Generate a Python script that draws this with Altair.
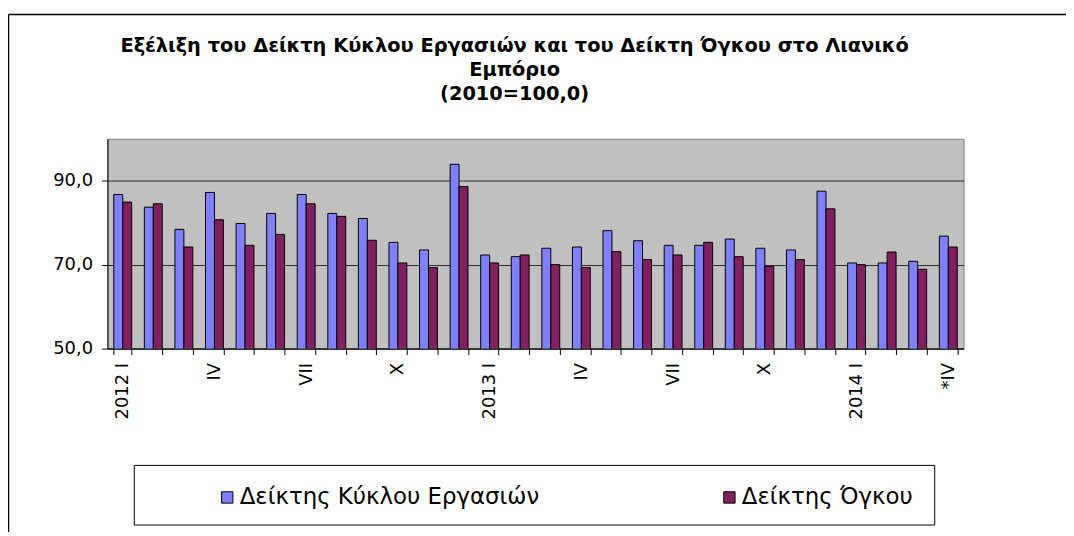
import altair as alt
import pandas as pd

# ---- data ----
months = ["2012 I", "2012 II", "2012 III", "2012 IV", "2012 V", "2012 VI", "2012 VII",
          "2012 VIII", "2012 IX", "2012 X", "2012 XI", "2012 XII",
          "2013 I", "2013 II", "2013 III", "2013 IV", "2013 V", "2013 VI", "2013 VII",
          "2013 VIII", "2013 IX", "2013 X", "2013 XI", "2013 XII",
          "2014 I", "2014 II", "2014 III", "2014 IV"]
tick_labels = ["2012 I", "", "", "IV", "", "", "VII", "", "", "X", "", "",
               "2013 I", "", "", "IV", "", "", "VII", "", "", "X", "", "",
               "2014 I", "", "", "*IV"]
series_names = ["Δείκτης Κύκλου Εργασιών", "Δείκτης Όγκου"]
turnover = [86.7, 83.7, 78.4, 87.2, 79.8, 82.2, 86.7, 82.2, 81.0, 75.3, 73.5, 93.9,
            72.3, 71.9, 73.9, 74.2, 78.1, 75.7, 74.6, 74.6, 76.1, 73.9, 73.5, 87.5,
            70.4, 70.4, 70.8, 76.8]
volume = [84.9, 84.5, 74.2, 80.7, 74.6, 77.2, 84.5, 81.5, 75.8, 70.4, 69.3, 88.6,
          70.4, 72.3, 70.0, 69.3, 73.1, 71.2, 72.3, 75.3, 71.9, 69.6, 71.2, 83.3,
          70.0, 73.0, 68.9, 74.2]
y_ticks = [50, 70, 90]
title_lines = ["Εξέλιξη του Δείκτη Κύκλου Εργασιών και του Δείκτη Όγκου στο Λιανικό",
               "Εμπόριο", "(2010=100,0)"]
colors = ["#8080FF", "#802060"]

rows = []
for i, m in enumerate(months):
    rows.append({"month": m, "series": series_names[0], "value": turnover[i]})
    rows.append({"month": m, "series": series_names[1], "value": volume[i]})
df = pd.DataFrame(rows)

FONT = "DejaVu Sans"
W, H = 861, 211

keys_js = "[" + ",".join("'%s'" % k for k in months) + "]"
labs_js = "[" + ",".join("'%s'" % l for l in tick_labels) + "]"
x_label_expr = f"{labs_js}[indexof({keys_js}, datum.value)]"

bars = alt.Chart(df).mark_bar(stroke="black", strokeWidth=1, clip=True).encode(
    x=alt.X("month:N", sort=months, title=None,
            scale=alt.Scale(paddingInner=0.415, paddingOuter=0.2075),
            axis=alt.Axis(labelExpr=x_label_expr, labelAngle=270, labelFont=FONT,
                          labelFontSize=18, labelColor="black", labelPadding=8,
                          labelOverlap=False, tickBand="extent", tickSize=6,
                          tickColor="black", domainColor="black", grid=False)),
    xOffset=alt.XOffset("series:N", sort=series_names),
    y=alt.Y("value:Q", title=None,
            scale=alt.Scale(domain=[50, 100], nice=False, zero=False),
            axis=alt.Axis(values=y_ticks, labelExpr="replace(format(datum.value, '.1f'), '.', ',')",
                          labelFont=FONT, labelFontSize=18, labelColor="black",
                          labelPadding=9, tickSize=6, tickColor="black",
                          domainColor="black", grid=True, gridColor="#2a2a2a",
                          gridWidth=1)),
    color=alt.Color("series:N", sort=series_names,
                    scale=alt.Scale(domain=series_names, range=colors),
                    legend=alt.Legend(title=None, orient="none", direction="horizontal",
                                      legendX=109, legendY=349, labelFont=FONT,
                                      labelFontSize=23, labelColor="black",
                                      symbolType="square", symbolSize=130,
                                      symbolStrokeColor="black", symbolStrokeWidth=1,
                                      labelOffset=1, columnPadding=179, padding=0,
                                      labelLimit=0)),
)

one = pd.DataFrame({"a": [0]})
# legend frame (four sides) and outer chart frame (top and left sides)
legend_top = alt.Chart(one).mark_rule(color="black", strokeWidth=1).encode(
    x=alt.value(27), x2=alt.value(832), y=alt.value(328.5))
legend_bottom = alt.Chart(one).mark_rule(color="black", strokeWidth=1).encode(
    x=alt.value(27), x2=alt.value(832), y=alt.value(388.5))
legend_left = alt.Chart(one).mark_rule(color="black", strokeWidth=1).encode(
    x=alt.value(27), y=alt.value(328.5), y2=alt.value(388.5))
legend_right = alt.Chart(one).mark_rule(color="black", strokeWidth=1).encode(
    x=alt.value(832), y=alt.value(328.5), y2=alt.value(388.5))
frame_top = alt.Chart(one).mark_rule(color="black", strokeWidth=1.5).encode(
    x=alt.value(-99.5), x2=alt.value(970), y=alt.value(-125))
frame_left = alt.Chart(one).mark_rule(color="black", strokeWidth=1.5).encode(
    x=alt.value(-99.5), y=alt.value(-125), y2=alt.value(400))

chart = alt.layer(frame_top, frame_left, legend_top, legend_bottom, legend_left,
                  legend_right, bars).properties(
    width=W, height=H,
    autosize=alt.AutoSizeParams(type="none"),
    padding={"left": 100, "top": 130, "right": 103, "bottom": 183},
    title=alt.TitleParams(text=title_lines, font=FONT, fontSize=19.5, fontWeight="bold",
                          color="black", anchor="middle", dx=-21, offset=-91,
                          lineHeight=24),
).configure_view(fill="#C0C0C0", stroke="#808080", strokeWidth=1)

chart.save("out.html", embed_options={"renderer": "svg", "actions": False})
